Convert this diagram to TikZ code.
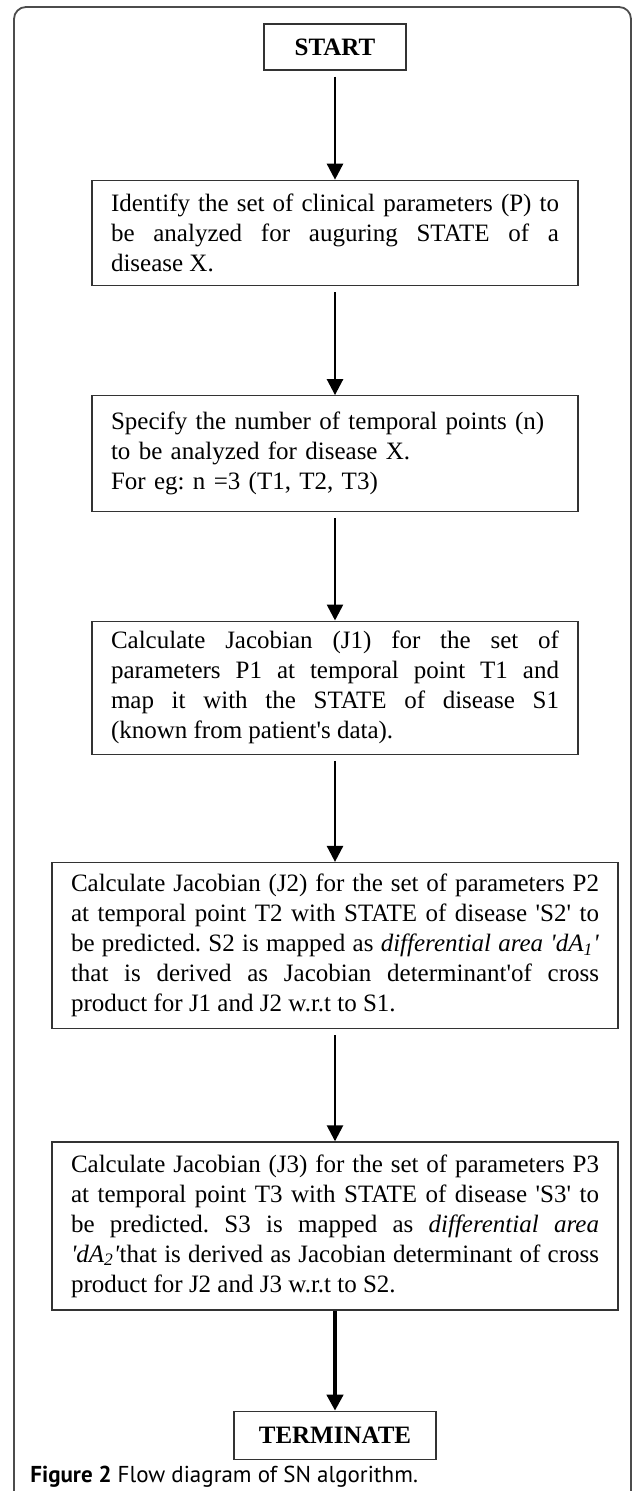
\documentclass[tikz,border=0pt]{standalone}
\usepackage{fontspec}
\setmainfont{Liberation Serif}
\newfontfamily\capfont{PT Sans}
\usepackage{tikz}
\usetikzlibrary{positioning, arrows.meta}
\definecolor{boxline}{rgb}{0.2,0.2,0.2}
\definecolor{frameline}{rgb}{0.3,0.3,0.3}
\newcommand{\sq}{\textquotesingle}
\tikzstyle{term}=[%
      rectangle, draw=boxline, line width=0.7pt, fill=white,
      font=\fontsize{12.5}{15}\selectfont\bfseries, minimum height=23pt, inner sep=4pt
]
\tikzstyle{task}=[%
      rectangle, draw=boxline, line width=0.7pt, fill=white,
      font=\fontsize{12.5}{15}\selectfont\frenchspacing, text width=224pt, align=justify,
      inner xsep=9.5pt, inner ysep=4pt
]
\tikzstyle{wide}=[text width=264pt]

\begin{document}
\begin{tikzpicture}[x=0.5pt, y=-0.5pt, auto,
    -{Triangle[length=8pt,width=8pt]}
  ]
    \useasboundingbox (0,0) rectangle (633,1491);
    % outer frame
    \draw[-, frameline, line width=0.9pt, rounded corners=6pt]
      (14,1491) -- (14,7) -- (631,7) -- (631,1491);

    \node[term, minimum width=71pt]  (start) at (335,47) {START};
    \node[task, minimum height=52.5pt] (1) [below=54.5pt of start]
      {Identify the set of clinical parameters (P) to\linebreak
       be analyzed for auguring STATE of a\linebreak disease X.};
    \node[task, align=left, minimum height=58pt] (2) [below=54.5pt of 1]
      {Specify the number of temporal points (n)\\
       to be analyzed for disease X.\\
       For eg: n =3 (T1, T2, T3)};
    \node[task, minimum height=66.5pt] (3) [below=54pt of 2]
      {Calculate Jacobian (J1) for the set of\linebreak
       parameters P1 at temporal point T1 and\linebreak
       map it with the STATE of disease S1\linebreak
       (known from patient\sq s data).};
    \node[task, wide, minimum height=83pt] (4) [below=53.5pt of 3]
      {Calculate Jacobian (J2) for the set of parameters P2\linebreak
       at temporal point T2 with STATE of disease \sq S2\sq\ to\linebreak
       be predicted. S2 is mapped as \textit{differential area \sq dA\textsubscript{1}\sq}\linebreak
       that is derived as Jacobian determinant\sq of cross\linebreak
       product for J1 and J2 w.r.t to S1.};
    \node[task, wide, minimum height=84pt] (5) [below=56pt of 4]
      {Calculate Jacobian (J3) for the set of parameters P3\linebreak
       at temporal point T3 with STATE of disease \sq S3\sq\ to\linebreak
       be predicted. S3 is mapped as \textit{differential area}\linebreak
       \textit{\sq dA\textsubscript{2}\sq}that is derived as Jacobian determinant of cross\linebreak
       product for J2 and J3 w.r.t to S2.};
    \node[term, minimum width=101pt, minimum height=24pt] (stop) [below=50pt of 5] {TERMINATE};

    \node[anchor=base west, inner sep=0pt, font=\capfont\fontsize{11.5}{13}\selectfont]
      (cap) at (30,1482) {\textbf{Figure 2} Flow diagram of SN algorithm.};

    \path[line width=1.3pt, shorten <=3pt]
          (start) edge (1)
          (1) edge (2)
          (2) edge (3)
          (3) edge (4)
          (4) edge (5)
    ;
    \path[line width=2pt] (5) edge (stop);

  \end{tikzpicture}
\end{document}
